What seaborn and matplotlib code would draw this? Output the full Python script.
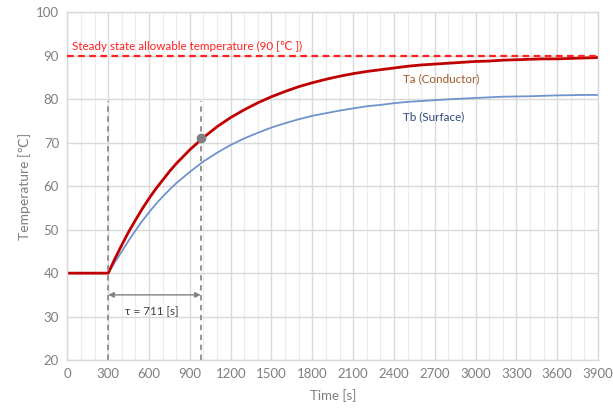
import numpy as np
import pandas as pd
import matplotlib
matplotlib.use("Agg")
import matplotlib.pyplot as plt
from matplotlib.ticker import MultipleLocator
import seaborn as sns

# values
time_s = [0, 300, 350, 400, 450, 500, 550, 600, 650, 700, 750, 800, 900, 1000,
          1100, 1200, 1300, 1400, 1500, 1600, 1700, 1800, 1900, 2000, 2100,
          2200, 2300, 2400, 2500, 2600, 2700, 2800, 2900, 3000, 3100, 3200,
          3300, 3400, 3500, 3600, 3700, 3800, 3900]
ta_conductor = [40.0, 40.0, 43.4, 46.5, 49.5, 52.2, 54.8, 57.2, 59.4, 61.4, 63.4,
                65.2, 68.4, 71.2, 73.7, 75.8, 77.6, 79.2, 80.6, 81.8, 82.9, 83.8,
                84.6, 85.3, 85.9, 86.4, 86.8, 87.2, 87.6, 87.9, 88.1, 88.3, 88.5,
                88.7, 88.8, 89.0, 89.1, 89.2, 89.3, 89.3, 89.4, 89.5, 89.6]
tb_surface = [40.0, 40.0, 42.6, 45.0, 47.5, 49.8, 52.0, 54.0, 55.9, 57.6, 59.2,
              60.7, 63.3, 65.7, 67.7, 69.5, 71.0, 72.3, 73.5, 74.5, 75.4, 76.2,
              76.8, 77.4, 77.9, 78.4, 78.7, 79.1, 79.4, 79.6, 79.8, 80.0, 80.15,
              80.3, 80.45, 80.6, 80.65, 80.7, 80.8, 80.9, 80.95, 81.0, 81.0]

allowable_temp = 90
t_start = 300
t_tau = 980
tau_label = 711
tau_point = 71.0

df = pd.DataFrame({"Time": time_s, "Ta": ta_conductor, "Tb": tb_surface})

sns.set_theme(style="whitegrid")
plt.rcParams['font.family'] = ['Lato', 'DejaVu Sans']

fig = plt.figure(figsize=(6.13, 4.12), dpi=100)
ax = fig.add_axes([0.110, 0.126, 0.8655, 0.844])

grey_txt = '#7f7f7f'

sns.lineplot(data=df, x="Time", y="Tb", color='#7093cc', linewidth=1.3, ax=ax)
sns.lineplot(data=df, x="Time", y="Ta", color='#c00000', linewidth=2.0, ax=ax)

# allowable temperature line
ax.axhline(allowable_temp, color='#ff2020', linestyle=(0, (3, 2)), linewidth=1.6, zorder=3)
ax.text(35, allowable_temp + 0.9, 'Steady state allowable temperature (90 [℃ ])',
        color='#ff2020', fontsize=8.4, ha='left', va='bottom',
        family=['Lato', 'DejaVu Sans'])

# time constant markers
for t in (t_start, t_tau):
    ax.plot([t, t], [20, 79.5], color='#8c8c8c', linestyle=(0, (3, 2.5)), linewidth=1.3, zorder=2)
ax.annotate('', xy=(t_start, 35), xytext=(t_tau, 35),
            arrowprops=dict(arrowstyle='<|-|>', color='#808080', lw=1.0,
                            mutation_scale=8, shrinkA=0, shrinkB=0))
ax.text((t_start + t_tau) / 2 - 20, 31.2, f'τ = {tau_label} [s]', color='#404040',
        fontsize=8.4, ha='center', va='center', family=['Lato', 'DejaVu Sans'])
ax.plot([t_tau], [tau_point], marker='o', markersize=6, color='#7f7f7f', zorder=5)

# curve labels
ax.text(2470, 84.7, 'Ta (Conductor)', color='#a0582a', fontsize=8.4, va='center')
ax.text(2470, 76.0, 'Tb (Surface)', color='#2f4b7c', fontsize=8.4, va='center')

ax.set_xlim(0, 3900)
ax.set_ylim(20, 100)
ax.xaxis.set_major_locator(MultipleLocator(300))
ax.xaxis.set_minor_locator(MultipleLocator(100))
ax.yaxis.set_major_locator(MultipleLocator(10))
ax.grid(True, which='major', color='#d9d9d9', linewidth=1.0)
ax.grid(True, which='minor', axis='x', color='#ececec', linewidth=0.8)
ax.set_axisbelow(True)

for side in ['top', 'right', 'bottom', 'left']:
    ax.spines[side].set_color('#d9d9d9')
    ax.spines[side].set_linewidth(1.0)

ax.tick_params(axis='both', which='both', length=0, labelsize=9.5, colors=grey_txt, pad=6)
ax.set_xlabel('Time [s]', fontsize=9.5, color=grey_txt, labelpad=6)
ax.set_ylabel('Temperature [℃]', fontsize=10, color=grey_txt, labelpad=4)

fig.savefig('out.png', dpi=100)
